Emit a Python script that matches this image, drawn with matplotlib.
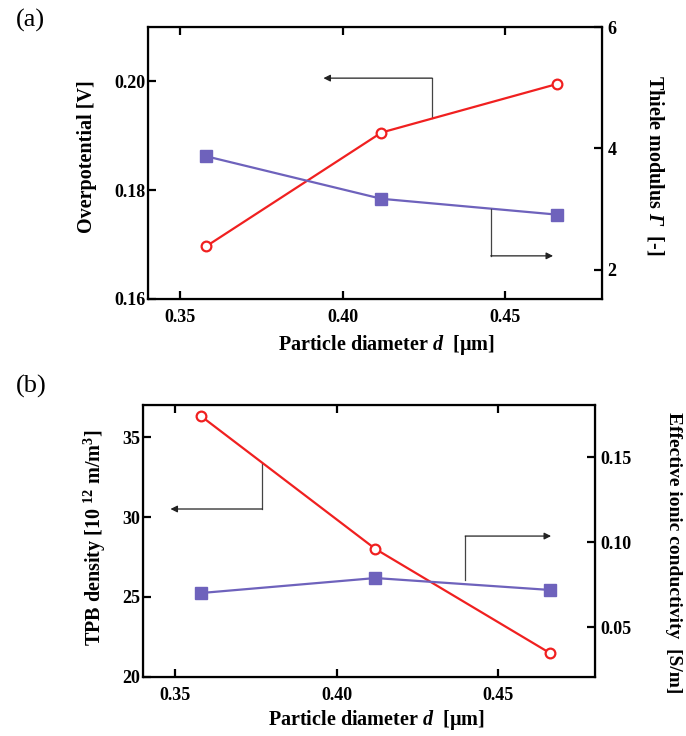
import numpy as np
import matplotlib.pyplot as plt

plt.rcParams['font.family'] = ['Liberation Serif', 'DejaVu Serif']
plt.rcParams['font.weight'] = 'bold'
plt.rcParams['mathtext.fontset'] = 'custom'
plt.rcParams['mathtext.rm'] = 'Liberation Serif:bold'
plt.rcParams['mathtext.bf'] = 'Liberation Serif:bold'
plt.rcParams['mathtext.it'] = 'Liberation Serif:italic:bold'
plt.rcParams['mathtext.cal'] = 'Liberation Serif:italic:bold'

# particle diameters [um]
d = [0.358, 0.412, 0.466]

# (a) overpotential and Thiele modulus
overpot = [0.1697, 0.1906, 0.1995]
thiele = [3.87, 3.17, 2.91]

# (b) TPB density and effective ionic conductivity
tpb = [36.3, 28.0, 21.5]
sigma = [0.070, 0.0788, 0.0718]

red = '#f02020'
purple = '#6e62bc'
xlab = 'Particle diameter $d$  [μm]'
tick_fs = 13
lab_fs = 14.5

fig = plt.figure(figsize=(6.86, 7.36), dpi=100)


def style(ax, twin):
    for s in ax.spines.values():
        s.set_linewidth(1.6)
    ax.tick_params(axis='y', direction='in', length=6, width=1.6,
                   labelsize=tick_fs, pad=2)
    ax.tick_params(axis='x', direction='in', length=6, width=1.6,
                   labelsize=tick_fs, top=True, pad=7)
    twin.tick_params(axis='y', direction='in', length=6, width=1.6,
                     labelsize=tick_fs, pad=4)
    ax.set_xlim(0.34, 0.48)
    ax.set_xticks([0.35, 0.40, 0.45])


def bracket(ax, pts):
    xs = [p[0] for p in pts]
    ys = [p[1] for p in pts]
    ax.plot(xs[:-1], ys[:-1], color='#444444', lw=0.9)
    ax.annotate('', xy=pts[-1], xytext=pts[-2],
                arrowprops=dict(arrowstyle='-|>', color='#222222', lw=0.9,
                                mutation_scale=10, shrinkA=0, shrinkB=0))


def label(x, y, s, rot=0, fs=lab_fs):
    fig.text(x, y, s, fontsize=fs, fontweight='bold', rotation=rot,
             ha='center', va='center')


# ---- (a)
ax1 = fig.add_axes([0.2157, 0.5938, 0.6619, 0.3695])
ax2 = ax1.twinx()
ax1.plot(d, overpot, color=red, lw=1.6, marker='o', ms=7,
         mfc='white', mec=red, mew=1.6, zorder=3)
ax2.plot(d, thiele, color=purple, lw=1.6, marker='s', ms=8,
         mfc=purple, mec=purple)
ax1.set_ylim(0.16, 0.21)
ax1.set_yticks([0.16, 0.18, 0.20])
ax1.set_yticklabels(['0.16', '0.18', '0.20'])
ax2.set_ylim(1.52, 6.0)
ax2.set_yticks([2, 4, 6])
style(ax1, ax2)
bracket(ax1, [(0.4276, 0.1933), (0.4276, 0.2006), (0.3941, 0.2006)])
bracket(ax2, [(0.4457, 3.01), (0.4457, 2.23), (0.4649, 2.23)])
label(0.1268, 0.7867, 'Overpotential [V]', 90)
label(0.9548, 0.7758, 'Thiele modulus $\\mathcal{Γ}$  [-]', 270)
label(0.5627, 0.5312, xlab)
fig.text(0.0437, 0.9728, '(a)', fontsize=19, fontweight='normal',
         ha='center', va='center')

# ---- (b)
ax3 = fig.add_axes([0.2085, 0.0802, 0.6588, 0.3695])
ax4 = ax3.twinx()
ax3.plot(d, tpb, color=red, lw=1.6, marker='o', ms=7,
         mfc='white', mec=red, mew=1.6, zorder=3)
ax4.plot(d, sigma, color=purple, lw=1.6, marker='s', ms=8,
         mfc=purple, mec=purple)
ax3.set_ylim(20, 37)
ax3.set_yticks([20, 25, 30, 35])
ax4.set_ylim(0.0206, 0.1806)
ax4.set_yticks([0.05, 0.10, 0.15])
ax4.set_yticklabels(['0.05', '0.10', '0.15'])
style(ax3, ax4)
bracket(ax3, [(0.3769, 33.4), (0.3769, 30.5), (0.3485, 30.5)])
bracket(ax4, [(0.4398, 0.0776), (0.4398, 0.1035), (0.4664, 0.1035)])
label(0.1385, 0.269, 'TPB density [10 $^{12}$ m/m$^{3}$]', 90)
label(0.9825, 0.2486, 'Effective ionic conductivity  [S/m]', 270, fs=14)
label(0.548, 0.0217, xlab)
fig.text(0.045, 0.4755, '(b)', fontsize=19, fontweight='normal',
         ha='center', va='center')

fig.savefig('out.png', dpi=100)
